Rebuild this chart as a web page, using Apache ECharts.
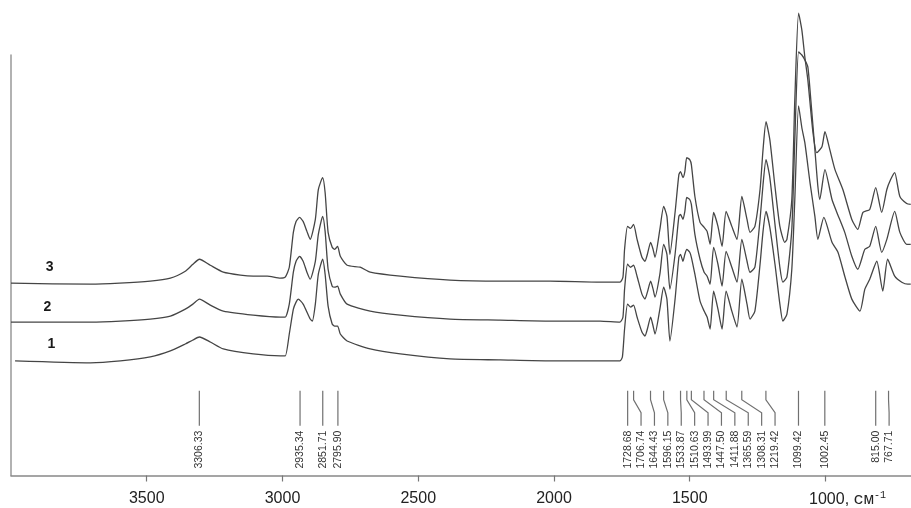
<!DOCTYPE html>
<html>
<head>
<meta charset="utf-8">
<script src="https://cdn.jsdelivr.net/npm/echarts@6/dist/echarts.min.js"></script>
<style>html,body{margin:0;padding:0;background:#fff}#c{width:911px;height:508px}</style>
</head>
<body>
<div id="c"></div>
<script>
// Wavenumber axis ticks (cm^-1)
const tickValues = [3500, 3000, 2500, 2000, 1500, 1000];

// Spectra: [wavenumber, intensity (arb. units)]
const spectrum3 = [
[4000,193],[3707,192],[3600,193],[3487,195],[3413,198],[3358,205],[3330,212],[3306,217],[3266,211],[3218,204],[3155,201],[3108,200],[3056,200],[3008,198],[2990,199],[2975,209],[2960,244],[2950,255],[2937,259],[2924,255],[2910,245],[2898,237],[2879,257],[2868,287],[2852,299],[2843,284],[2832,244],[2817,229],[2808,227],[2797,230],[2787,220],[2762,211],[2714,209],[2677,204],[2566,200],[2383,196],[2198,195],[2014,195],[1830,194],[1757,194],[1746,199],[1740,227],[1729,250],[1718,248],[1707,252],[1694,237],[1676,219],[1665,215],[1656,222],[1644,234],[1635,227],[1628,219],[1610,247],[1596,270],[1584,260],[1573,222],[1554,264],[1540,302],[1534,305],[1525,299],[1518,305],[1511,319],[1500,317],[1494,312],[1481,280],[1462,254],[1447,249],[1436,245],[1425,232],[1412,264],[1396,250],[1381,230],[1366,265],[1345,250],[1326,237],[1308,280],[1289,257],[1278,244],[1260,250],[1241,287],[1230,327],[1219,355],[1205,337],[1186,290],[1168,250],[1150,234],[1142,237],[1124,277],[1113,377],[1099,464],[1087,447],[1076,420],[1065,397],[1046,344],[1032,324],[1013,330],[1002,345],[984,327],[965,307],[936,287],[903,257],[881,247],[862,264],[837,267],[815,289],[793,264],[774,287],[760,297],[745,304],[726,280],[701,273],[686,272]
];
const spectrum2 = [
[4000,154],[3707,154],[3597,155],[3487,157],[3413,160],[3358,167],[3330,172],[3306,177],[3266,171],[3218,165],[3108,161],[3008,159],[2990,159],[2975,172],[2960,204],[2950,215],[2937,220],[2924,215],[2910,204],[2898,197],[2879,215],[2868,242],[2852,260],[2843,245],[2832,207],[2817,190],[2808,189],[2797,190],[2787,182],[2762,172],[2677,165],[2566,161],[2383,157],[2198,156],[2014,155],[1830,155],[1757,154],[1746,159],[1740,187],[1729,212],[1718,209],[1707,211],[1694,200],[1676,182],[1665,177],[1656,184],[1644,195],[1635,187],[1628,179],[1610,202],[1596,232],[1584,222],[1573,187],[1554,222],[1540,260],[1534,262],[1525,257],[1518,265],[1511,279],[1500,277],[1494,272],[1481,242],[1462,217],[1447,204],[1436,200],[1425,192],[1412,229],[1396,212],[1381,190],[1366,225],[1345,209],[1326,194],[1308,237],[1289,215],[1278,204],[1260,209],[1241,257],[1230,292],[1219,317],[1205,299],[1186,252],[1168,209],[1157,194],[1142,199],[1124,247],[1113,337],[1099,425],[1087,422],[1076,417],[1065,410],[1054,377],[1039,327],[1028,290],[1021,277],[1002,307],[976,277],[958,264],[929,244],[903,220],[881,207],[855,227],[837,230],[815,250],[793,224],[774,237],[745,265],[726,244],[701,232],[686,232]
];
const spectrum1 = [
[3985,115],[3707,113],[3597,115],[3487,119],[3413,125],[3358,132],[3330,136],[3306,139],[3266,134],[3218,127],[3108,122],[3008,120],[2990,120],[2975,142],[2960,167],[2950,174],[2942,177],[2924,172],[2898,157],[2890,155],[2879,172],[2868,202],[2852,217],[2843,202],[2832,170],[2817,152],[2808,150],[2797,150],[2787,142],[2762,135],[2677,127],[2566,122],[2383,117],[2198,116],[2014,115],[1830,115],[1757,115],[1748,119],[1740,147],[1729,172],[1718,169],[1707,171],[1694,159],[1676,144],[1665,140],[1656,147],[1644,159],[1635,150],[1628,142],[1610,167],[1596,189],[1584,177],[1573,135],[1554,177],[1540,219],[1534,222],[1525,215],[1518,222],[1511,227],[1500,224],[1494,219],[1481,202],[1462,175],[1447,165],[1436,159],[1425,147],[1412,185],[1396,167],[1381,147],[1366,185],[1345,165],[1326,149],[1308,197],[1289,172],[1278,157],[1260,165],[1241,212],[1230,245],[1219,265],[1205,249],[1186,212],[1168,172],[1157,155],[1142,162],[1124,207],[1113,277],[1099,371],[1087,349],[1076,334],[1057,294],[1039,260],[1028,237],[1006,259],[976,234],[954,224],[929,200],[903,177],[873,165],[855,187],[837,197],[811,215],[789,185],[771,217],[745,200],[719,194],[697,192],[686,192]
];

// Series names and where their numbers are placed
const seriesNames = ['1', '2', '3'];
const nameAnchors = [[3851, 115], [3866, 154], [3858, 193]];

// Peak positions (cm^-1)
const peakWn = [3306.33, 2935.34, 2851.71, 2795.90, 1728.68, 1706.74, 1644.43, 1596.15, 1533.87, 1510.63, 1493.99, 1447.50, 1411.88, 1365.59, 1308.31, 1219.42, 1099.42, 1002.45, 815.00, 767.71];
const peakLabels = ['3306.33', '2935.34', '2851.71', '2795.90', '1728.68', '1706.74', '1644.43', '1596.15', '1533.87', '1510.63', '1493.99', '1447.50', '1411.88', '1365.59', '1308.31', '1219.42', '1099.42', '1002.45', '815.00', '767.71'];

const chart = echarts.init(document.getElementById('c'), null, {renderer: 'canvas'});

const LINE = '#454545';
const GAP = 13.4;
function labelXs(api) {
  const out = [];
  let prev = -1e9;
  peakWn.forEach(w => {
    const x = api.coord([w, 0])[0];
    const lx = Math.max(x, prev + GAP);
    out.push(lx);
    prev = lx;
  });
  return out;
}

function mkSeries(name, data, anchor, off) {
  return {
    type: 'line', name: name, data: data, showSymbol: false, clip: false,
    smooth: 0.2, silent: true,
    lineStyle: {color: LINE, width: 1.3},
    markPoint: {
      symbol: 'circle', symbolSize: 0, silent: true,
      itemStyle: {color: 'transparent'},
      label: {show: true, position: 'inside', offset: [0, off], formatter: name,
        color: '#1a1a1a', fontSize: 14, fontWeight: 'bold', fontFamily: 'Liberation Sans'},
      data: [{coord: anchor}]
    }
  };
}

const option = {
  animation: false,
  backgroundColor: '#fff',
  grid: {left: 11, right: 0, top: 55, bottom: 31},
  xAxis: {
    type: 'value', inverse: true, min: 685, max: 4000,
    splitLine: {show: false},
    axisLine: {lineStyle: {color: '#888', width: 1.5}},
    axisTick: {show: true, length: 6, lineStyle: {color: '#777', width: 1.2}, customValues: tickValues},
    axisLabel: {
      customValues: tickValues, margin: 15, color: '#222', fontSize: 16, fontFamily: 'Liberation Sans',
      formatter: v => v === 1000 ? '{pad|}1000{c|, }{u|см}{s|-1}' : String(v),
      rich: {
        pad: {width: 44},
        c: {fontSize: 16, fontFamily: 'Liberation Sans', color: '#222'},
        u: {fontSize: 17, fontFamily: 'Liberation Mono', color: '#222'},
        s: {fontSize: 10, fontFamily: 'Liberation Mono', color: '#222', verticalAlign: 'top', padding: [0, 0, 8, 0]}
      }
    }
  },
  yAxis: {
    type: 'value', min: 0, max: 422,
    splitLine: {show: false},
    axisLine: {show: true, lineStyle: {color: '#999', width: 1.5}},
    axisTick: {show: false}, axisLabel: {show: false}
  },
  series: [
    mkSeries(seriesNames[0], spectrum1, nameAnchors[0], -17),
    mkSeries(seriesNames[1], spectrum2, nameAnchors[1], -15),
    mkSeries(seriesNames[2], spectrum3, nameAnchors[2], -16),
    {
      type: 'custom', silent: true, clip: false,
      data: peakWn.map(w => [w, 0]),
      encode: {x: 0, y: 1},
      renderItem: function (params, api) {
        const i = params.dataIndex;
        const w = api.value(0);
        const lxs = labelXs(api);
        const lx = lxs[i];
        const p0 = api.coord([w, 85]);
        const p1 = api.coord([w, 76]);
        const y2 = api.coord([w, 63])[1];
        const y3 = api.coord([w, 50])[1];
        const yt = api.coord([w, 45])[1];
        return {
          type: 'group',
          children: [
            {type: 'polyline', shape: {points: [p0, p1, [lx, y2], [lx, y3]]},
             style: {stroke: '#707070', lineWidth: 1.2, fill: null}},
            {type: 'text', x: lx, y: yt, rotation: Math.PI / 2,
             style: {text: peakLabels[i], fill: '#333', fontSize: 10.5, fontFamily: 'Liberation Sans',
                     align: 'right', verticalAlign: 'middle'}}
          ]
        };
      }
    }
  ]
};
chart.setOption(option);
</script>
</body>
</html>
